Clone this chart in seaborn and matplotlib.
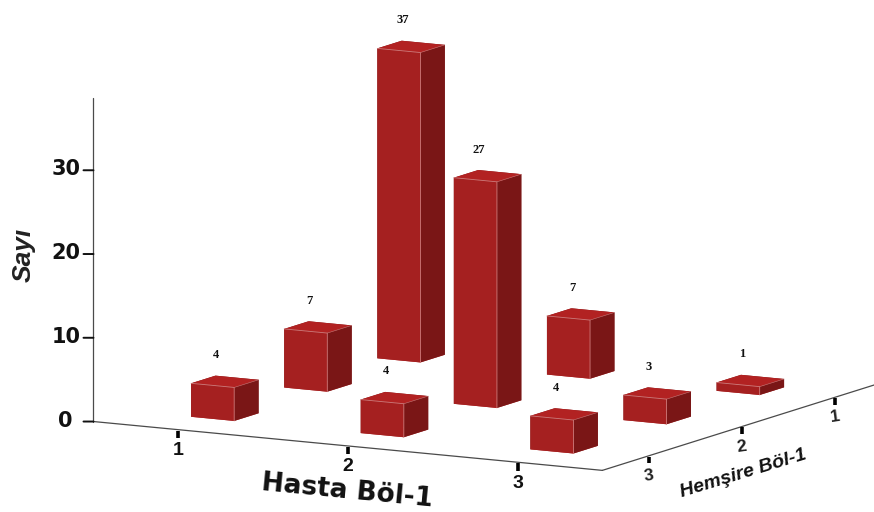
import numpy as np
import pandas as pd
import seaborn as sns
import matplotlib
matplotlib.use("Agg")
import matplotlib.pyplot as plt
from mpl_toolkits.mplot3d import proj3d

# Cross-tabulated counts
hasta_levels = [1, 2, 3]
hemsire_levels = [1, 2, 3]
counts_hemsire_1 = [37, 7, 1]
counts_hemsire_2 = [7, 27, 3]
counts_hemsire_3 = [4, 4, 4]
z_ticks = [0, 10, 20, 30]

table = pd.DataFrame(
    [counts_hemsire_1, counts_hemsire_2, counts_hemsire_3],
    index=hemsire_levels, columns=hasta_levels,
)

sns.set_theme(style="white", rc={"axes.grid": False})

FRONT, SIDE, TOP = "#A52020", "#7A1616", "#B22222"
EDGE = "#CF7C7C"
AXIS = "#4A4A4A"
INK = "#111111"

W, H = 874, 512
fig = plt.figure(figsize=(W / 100, H / 100), dpi=100, facecolor="white")

# Square 3D axes placed so the box centre lands at the wanted pixel
side_px = 857
left_px, top_px = 47.5, 252 - side_px / 2
ax = fig.add_axes(
    [left_px / W, 1 - (top_px + side_px) / H, side_px / W, side_px / H],
    projection="3d", proj_type="ortho", computed_zorder=False,
)
ax.patch.set_alpha(0)
ax.set_axis_off()
ax.view_init(elev=10.0, azim=-61.07)
ax.set_box_aspect((582.7, 578.7, 329.0), zoom=1.0)

BAR_X, BAR_Y = 0.254, 0.262
X0, X1, Y_FRONT, Y_BACK, Z_TOP = 0.5, 3.5, 3.5, 0.5, 38.6

# Bars, back row first so nearer bars paint over farther ones
order = 10
for hem in hemsire_levels:
    for has in hasta_levels[::-1]:
        v = table.loc[hem, has]
        x0, y0 = has - BAR_X / 2, hem - BAR_Y / 2
        x1, y1 = x0 + BAR_X, y0 + BAR_Y
        ax.bar3d(x0, y0, 0, BAR_X, BAR_Y, v, shade=False, edgecolor="none",
                 color=[TOP, TOP, SIDE, FRONT, SIDE, SIDE], zorder=order)
        ax.plot([x1, x1, x0], [y1, y1, y1], [0, v, v], color=EDGE, lw=0.6, zorder=order + 1)
        ax.plot([x1, x1], [y1, y0], [v, v], color=EDGE, lw=0.4, zorder=order + 1)
        order += 2

ax.set_xlim(X0, X1, view_margin=0)
ax.set_ylim(Y_FRONT, Y_BACK, view_margin=0)
ax.set_zlim(0, Z_TOP, view_margin=0)


def label(x, y, z, text, **kw):
    """Place a flat text at the screen position of a 3D point."""
    px, py, _ = proj3d.proj_transform(x, y, z, ax.get_proj())
    ax.text2D(px, py, text, transform=ax.transData, ha="center", va="center", zorder=100, **kw)


# Value labels above the bars
for hem in hemsire_levels:
    for has in hasta_levels:
        v = table.loc[hem, has]
        label(has - 0.05, hem, v + 3.05, str(v), family="Liberation Serif", weight="bold",
              fontsize=9, color=INK)

# Axis lines along the front edges of the box
ax.plot([X0, X1], [Y_FRONT, Y_FRONT], [0, 0], color=AXIS, lw=0.9, zorder=1)
ax.plot([X1, X1], [Y_FRONT, Y_BACK], [0, 0], color=AXIS, lw=0.9, zorder=1)
ax.plot([X0, X0], [Y_FRONT, Y_FRONT], [0, Z_TOP], color=AXIS, lw=0.9, zorder=1)

# Count axis: ticks run horizontally on screen
for z in z_ticks:
    ax.plot([X0, X0 - 0.045], [Y_FRONT, Y_FRONT + 0.025], [z, z], color=INK, lw=1.4, zorder=2)
    label(X0 - 0.125, Y_FRONT + 0.07, z + 0.1, str(z), family="DejaVu Sans", weight="bold",
          fontsize=15, color=INK)

# Hasta axis ticks and labels
for has in hasta_levels:
    ax.plot([has, has], [Y_FRONT, Y_FRONT], [-0.1, -1.0], color="black", lw=2.6,
            solid_capstyle="butt", zorder=2)
    label(has, Y_FRONT, -2.5, str(has), family="Liberation Sans", weight="bold",
          fontsize=14, color=INK)

# Hemsire axis ticks and labels
for hem in hemsire_levels:
    ax.plot([X1, X1], [hem, hem], [-0.1, -0.9], color="black", lw=2.6,
            solid_capstyle="butt", zorder=2)
    label(X1, hem, -2.4, str(hem), family="Liberation Sans", weight="bold", fontsize=12.5,
          color="#222222", rotation=8)

ax.set_xlim(X0, X1, view_margin=0)
ax.set_ylim(Y_FRONT, Y_BACK, view_margin=0)
ax.set_zlim(0, Z_TOP, view_margin=0)

# Axis titles
fig.text(347 / W, 1 - 491 / H, "Hasta Böl-1", family="DejaVu Sans", weight="bold",
         fontsize=19, color=INK, ha="center", va="center", rotation=-5.5,
         rotation_mode="anchor")
fig.text(743 / W, 1 - 474 / H, "Hemşire Böl-1", family="Liberation Sans", weight="bold",
         style="italic", fontsize=14, color=INK, ha="center", va="center", rotation=17,
         rotation_mode="anchor")
fig.text(24 / W, 1 - 255 / H, "Sayı", family="Liberation Sans", weight="bold", style="italic",
         fontsize=19, color="#222222", ha="center", va="center", rotation=90)

fig.savefig("out.png", dpi=100, facecolor="white")
